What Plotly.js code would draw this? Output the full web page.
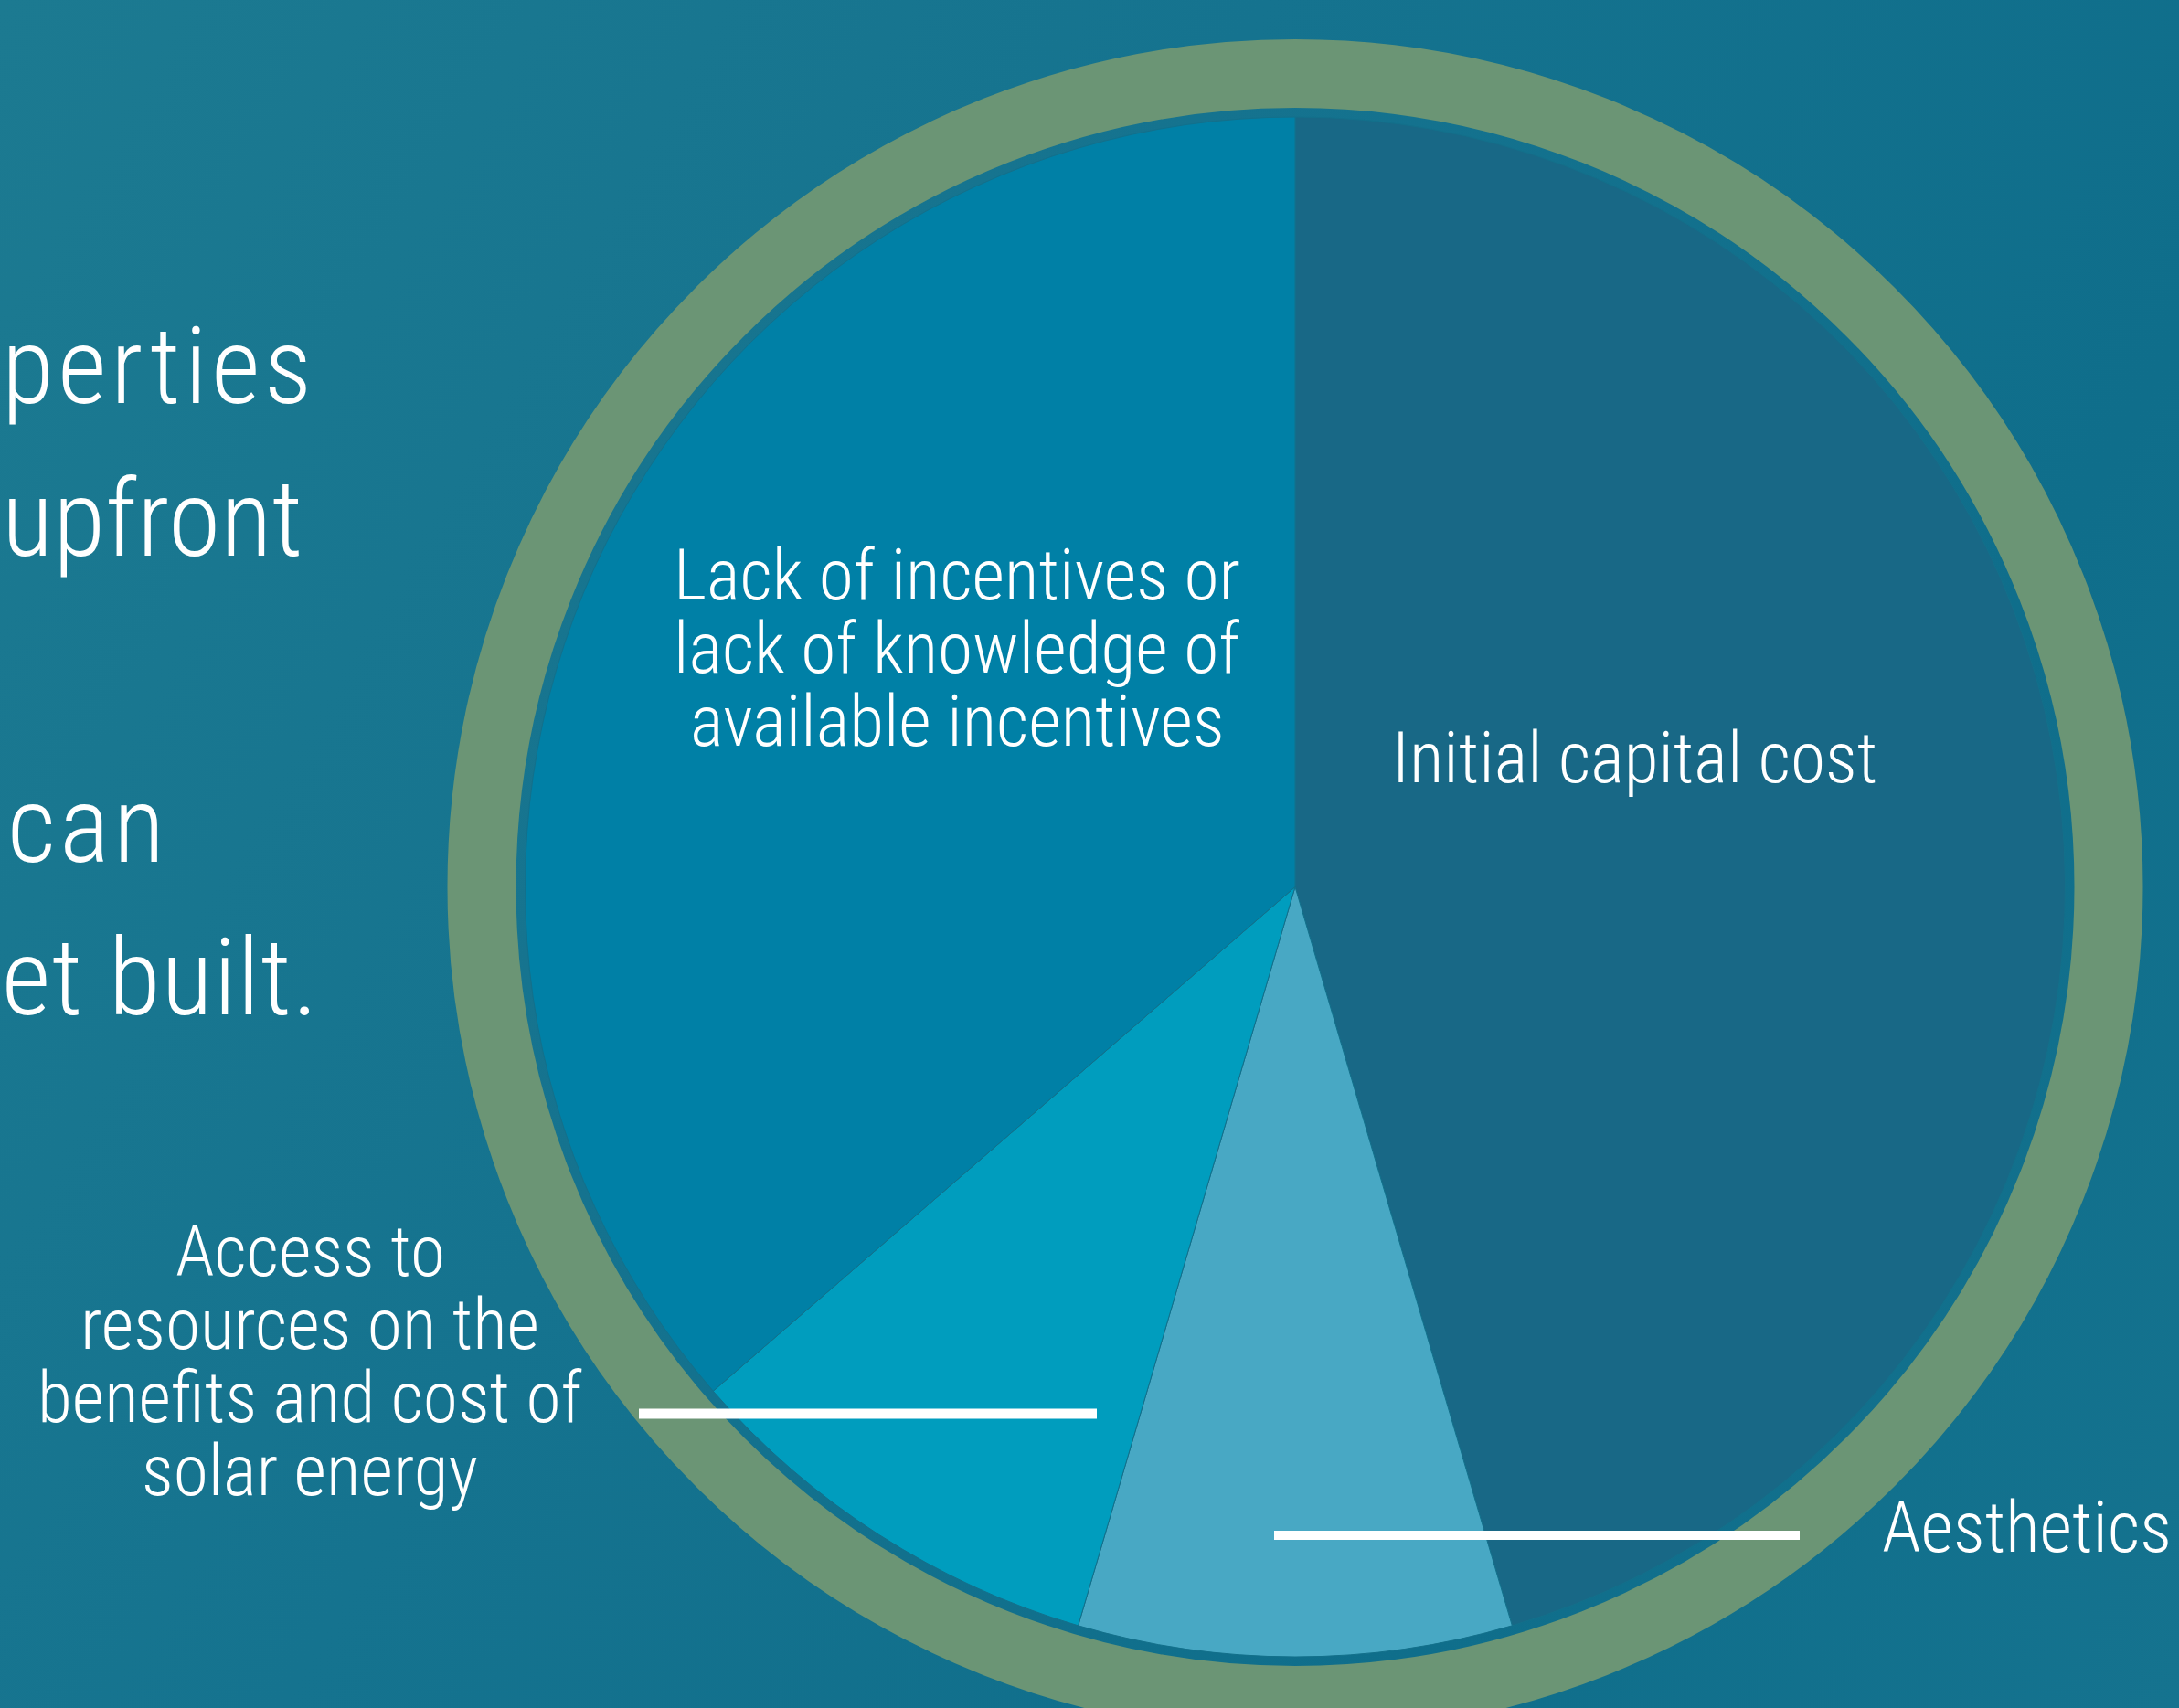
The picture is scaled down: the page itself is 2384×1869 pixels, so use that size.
<!DOCTYPE html>
<html>
<head>
<meta charset="utf-8">
<script src="https://cdn.plot.ly/plotly-3.0.1.min.js"></script>
<style>
  html, body { margin: 0; padding: 0; width: 2384px; height: 1869px; overflow: hidden;
    background: linear-gradient(120deg, #1c7a91 0%, #15738f 40%, #0f6e8b 75%, #15738f 100%); }
  #chart { width: 2384px; height: 1869px; }
</style>
</head>
<body>
<div id="chart"></div>
<script>
// ---- data ----
const labels = [
  'Initial capital cost',
  'Aesthetics',
  'Access to resources on the benefits and cost of solar energy',
  'Lack of incentives or lack of knowledge of available incentives'
];
const values = [5, 1, 1, 4];
const labelLines = [
  ['Initial capital cost'],
  ['Aesthetics'],
  ['Access to', 'resources on the', 'benefits and cost of', 'solar energy'],
  ['Lack of incentives or', 'lack of knowledge of', 'available incentives']
];
const sideText = ['perties', 'upfront', 'can', 'et built.'];

// ---- style ----
const W = 2384, H = 1869;
const sliceColors = ['#186886', '#48a8c4', '#009dbe', '#0080a6'];
const cx = 1417, cy = 970.5, R = 842.5;
const ringR = 890, ringW = 75;
const px = v => v / W;
const py = v => 1 - v / H;

// pick the narrowest installed sans font from a list
const ctx = document.createElement('canvas').getContext('2d');
function available(name) {
  const t = 'abcdefghijklmnopqrstuvwxyz ABCDEFGHIJ 0123456789';
  let diff = false;
  ['monospace', 'serif'].forEach(fb => {
    ctx.font = '72px ' + fb; const a = ctx.measureText(t).width;
    ctx.font = '72px "' + name + '", ' + fb; const b = ctx.measureText(t).width;
    if (Math.abs(a - b) > 0.5) diff = true;
  });
  return diff;
}
const candidates = ['Roboto Condensed', 'Liberation Sans Narrow', 'DejaVu Sans Condensed',
  'Noto Sans Condensed', 'Open Sans Condensed', 'Ubuntu Condensed', 'Noto Sans', 'Roboto'];
const family = candidates.find(available) || 'sans-serif';
const WEIGHT = 300;
function fontStr(size) { return WEIGHT + ' ' + size + 'px "' + family + '", sans-serif'; }
function measure(text, size) { ctx.font = fontStr(size); return ctx.measureText(text); }

// label font size chosen so that the widest label line spans like the reference
const fs = Math.min(80, 620 / (measure('Lack of incentives or', 100).width / 100));
const m100 = measure('Hxg', 100);
const asc = m100.fontBoundingBoxAscent / 100, desc = m100.fontBoundingBoxDescent / 100;
const midOff = (asc - desc) / 2;           // bbox middle above baseline, in em
const lineGap = 80;
const labelPos = [
  {x: 1788, base: 856, anchor: 'center'},
  {x: 2057, base: 1698, anchor: 'left'},
  {x: 339, base: 1396, anchor: 'center'},
  {x: 1047, base: 656, anchor: 'center'}
];

const annotations = [];
const styleRules = [];
// slide text on the left (only the part visible in the picture), tracked wide
const xh = measure('x', 100).actualBoundingBoxAscent / 100;
const sideFs = 63 / xh;
const sidePos = [{l: 2, r: 327, base: 441}, {l: 2, r: 315, base: 608},
                 {l: 8, r: 167, base: 943}, {l: 2, r: 333, base: 1110}];
sideText.forEach((t, i) => {
  const m = measure(t, sideFs);
  const natural = m.actualBoundingBoxLeft + m.actualBoundingBoxRight;
  const ls = Math.max(0, (sidePos[i].r - sidePos[i].l - natural) / (t.length - 1));
  styleRules.push('.annotation[data-index="' + i + '"] text { letter-spacing: ' + ls.toFixed(2) + 'px; }');
  annotations.push({
    xref: 'paper', yref: 'paper', x: px(sidePos[i].l - 2), y: py(sidePos[i].base - midOff * sideFs),
    xanchor: 'left', yanchor: 'middle', align: 'left', showarrow: false, text: t,
    font: {family: family, size: sideFs, color: '#ffffff', weight: WEIGHT}
  });
});
labelLines.forEach((lines, k) => {
  const p = labelPos[k];
  lines.forEach((ln, j) => {
    annotations.push({
      xref: 'paper', yref: 'paper', x: px(p.x), y: py(p.base + j * lineGap - midOff * fs),
      xanchor: p.anchor, yanchor: 'middle', showarrow: false, text: ln,
      font: {family: family, size: fs, color: '#ffffff', weight: WEIGHT}
    });
  });
});
const st = document.createElement('style');
st.textContent = styleRules.join('\n');
document.head.appendChild(st);

const shapes = [
  {type: 'circle', xref: 'paper', yref: 'paper', layer: 'below',
   x0: px(cx - ringR), x1: px(cx + ringR), y0: py(cy + ringR), y1: py(cy - ringR),
   line: {color: '#6b9575', width: ringW}, fillcolor: 'rgba(0,0,0,0)'},
  {type: 'line', xref: 'paper', yref: 'paper', layer: 'above',
   x0: px(699), x1: px(1200), y0: py(1547), y1: py(1547), line: {color: '#ffffff', width: 11}},
  {type: 'line', xref: 'paper', yref: 'paper', layer: 'above',
   x0: px(1394), x1: px(1969), y0: py(1680), y1: py(1680), line: {color: '#ffffff', width: 10}}
];

const trace = {
  type: 'pie', labels: labels, values: values, sort: false, direction: 'clockwise', rotation: 0,
  textinfo: 'none', hoverinfo: 'skip', showlegend: false,
  marker: {colors: sliceColors, line: {color: '#13708b', width: 1}},
  domain: {x: [px(cx - R), px(cx + R)], y: [py(cy + R), py(cy - R)]}
};

const layout = {
  width: W, height: H, margin: {l: 0, r: 0, t: 0, b: 0},
  paper_bgcolor: 'rgba(0,0,0,0)', plot_bgcolor: 'rgba(0,0,0,0)',
  showlegend: false, shapes: shapes, annotations: annotations
};

Plotly.newPlot('chart', [trace], layout, {displayModeBar: false, staticPlot: true});
</script>
</body>
</html>
